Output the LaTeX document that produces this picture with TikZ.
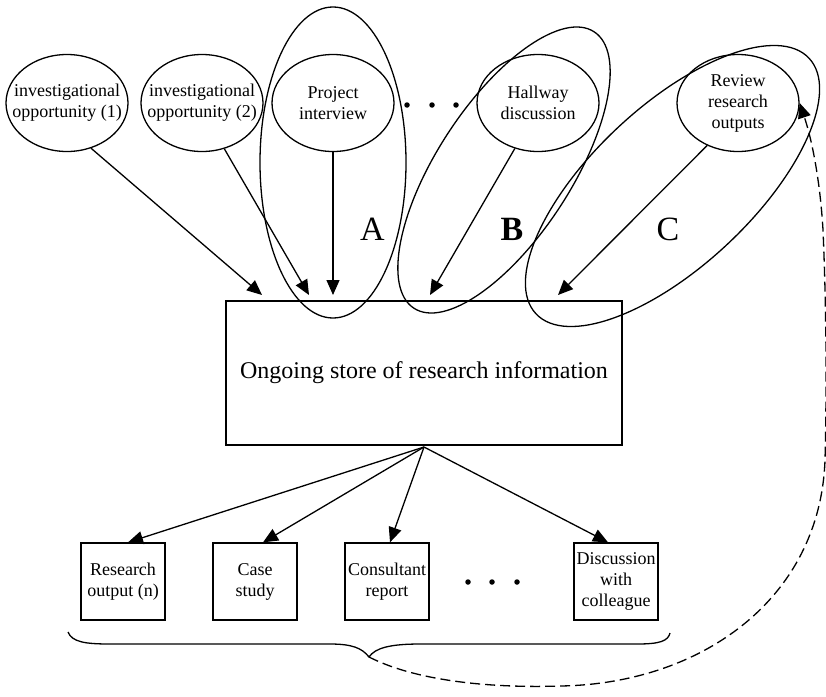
\documentclass[tikz,border=0pt]{standalone}
\usepackage{fontspec}
\setmainfont{Liberation Serif}
\usetikzlibrary{shapes.geometric,arrows.meta}
\begin{document}
\begin{tikzpicture}[x=1pt,y=-1pt,line width=1.3pt,
  every node/.style={font=\fontsize{18}{21}\selectfont},
  source/.style={ellipse,draw,minimum width=122pt,minimum height=97pt,inner sep=0pt},
  output/.style={rectangle,draw,minimum width=84pt,minimum height=77pt,inner sep=1pt,align=center},
  arr/.style={-{Triangle[length=15pt,width=13pt]}},
  dot/.style={circle,fill,draw=none,inner sep=0pt,minimum size=5.5pt},
  biglabel/.style={font=\fontsize{34}{40}\selectfont}]
\useasboundingbox (0,0) rectangle (826,696);

% sources of research information
\node[source,label={[align=center]center:investigational\\opportunity (1)}] (e1) at (67,103) {};
\node[source,label={[align=center]center:investigational\\opportunity (2)}] (e2) at (202,103) {};
\node[source,label={[align=center]center:Project\\interview}] (e3) at (333,103) {};
\node[source,label={[align=center]center:Hallway\\discussion}] (e4) at (538,103) {};
\node[source,label={[align=center]center:Review\\research\\outputs}] (e5) at (738,103) {};
\node[dot] (d1) at (407,105) {};
\node[dot] (d2) at (432,105) {};
\node[dot] (d3) at (456,105) {};

% central store
\node[draw,minimum width=396pt,minimum height=144pt,inner sep=0pt,
      font=\fontsize{24}{28}\selectfont] (store) at (424,373) {Ongoing store of research information};
\coordinate (in1) at (262,295);
\coordinate (in2) at (309,295);
\coordinate (in3) at (333,295);
\coordinate (in4) at (430,295);
\coordinate (in5) at (558,295);
\coordinate (hub) at (424,447);

\draw[arr] (e1.-62) -- (in1);
\draw[arr] (e2.-64) -- (in2);
\draw[arr] (e3.south) -- (in3);
\draw[arr] (e4.-117) -- (in4);
\draw[arr] (e5.-126) -- (in5);

% groupings
\draw (333,162.5) ellipse [x radius=73pt,y radius=155.5pt];
\draw[rotate around={56.9:(504,170)}] (504,170) ellipse [x radius=165pt,y radius=67pt];
\draw[rotate around={43.1:(672.5,186)}] (672.5,186) ellipse [x radius=187pt,y radius=80pt];
\node[biglabel] (lA) at (372.5,229.5) {A};
\node[font=\fontsize{34}{40}\selectfont\bfseries] (lB) at (512,229.5) {B};
\node[biglabel] (lC) at (668,229.5) {C};

% outputs
\node[output] (b1) at (123,581.5) {Research\\output (n)};
\node[output] (b2) at (255,581.5) {Case\\study};
\node[output] (b3) at (387,581.5) {Consultant\\report};
\node[output] (b4) at (616,581.5) {Discussion\\with\\colleague};
\node[dot] (d4) at (468,582) {};
\node[dot] (d5) at (492,582) {};
\node[dot] (d6) at (517,582) {};

\draw[arr] (hub) -- ([xshift=5pt]b1.north);
\draw[arr] (hub) -- ([xshift=8pt]b2.north);
\draw[arr] (hub) -- ([xshift=3pt]b3.north);
\draw[arr] (hub) -- ([xshift=-8pt]b4.north);

% brace under the outputs
\coordinate (bracetip) at (369,657);
\draw (68,632) .. controls (72,642) and (85,644) .. (110,644) -- (330,644)
  .. controls (352,644) and (362,648) .. (bracetip)
  .. controls (375,648) and (390,644) .. (420,644) -- (637,644)
  .. controls (660,644) and (668,641) .. (670,633);

% feedback loop
\draw[arr,dash pattern=on 10pt off 5pt] (bracetip)
  .. controls (420,683) and (500,688) .. (560,686)
  .. controls (700,684) and (820,600) .. (825,460)
  .. controls (827,380) and (826,300) .. (823,230)
  .. controls (820,180) and (812,140) .. (e5.east);
\end{tikzpicture}
\end{document}
